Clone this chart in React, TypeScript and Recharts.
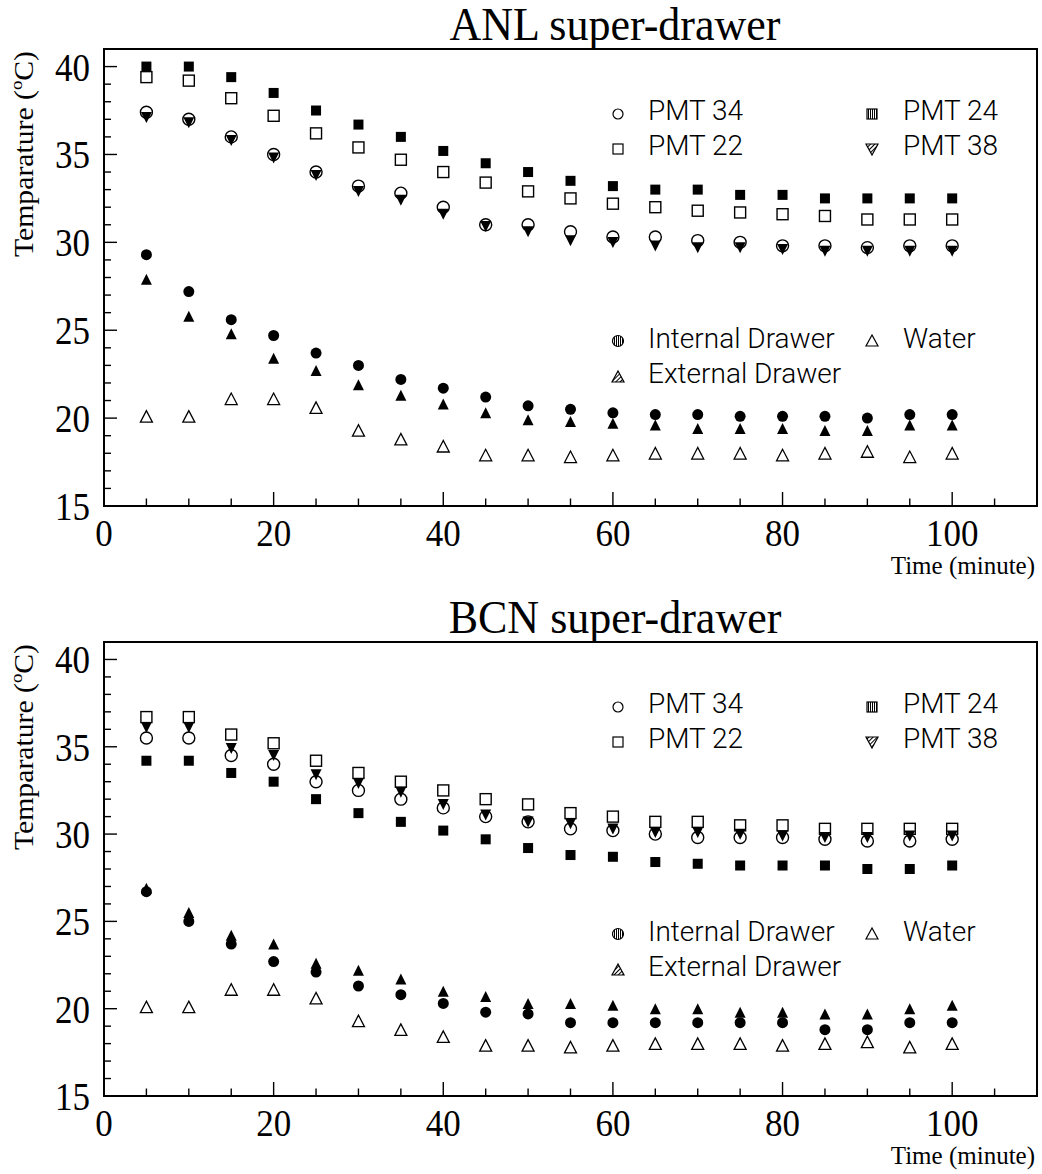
import React from "react";
import { ScatterChart, Scatter, XAxis, YAxis, ReferenceArea } from "recharts";

const TIME = [5, 10, 15, 20, 25, 30, 35, 40, 45, 50, 55, 60, 65, 70, 75, 80, 85, 90, 95, 100];
const X_TICKS = [0, 5, 10, 15, 20, 25, 30, 35, 40, 45, 50, 55, 60, 65, 70, 75, 80, 85, 90, 95, 100, 105, 110];
const Y_TICKS = [15, 16, 17, 18, 19, 20, 21, 22, 23, 24, 25, 26, 27, 28, 29, 30, 31, 32, 33, 34, 35, 36, 37, 38, 39, 40];

// ANL super-drawer
const ANL_PMT34 = [37.4, 37.0, 36.0, 35.0, 34.0, 33.2, 32.8, 32.0, 31.0, 31.0, 30.6, 30.3, 30.3, 30.1, 30.0, 29.8, 29.8, 29.7, 29.8, 29.8];
const ANL_PMT22 = [39.4, 39.2, 38.2, 37.2, 36.2, 35.4, 34.7, 34.0, 33.4, 32.9, 32.5, 32.2, 32.0, 31.8, 31.7, 31.6, 31.5, 31.3, 31.3, 31.3];
const ANL_PMT24 = [40.0, 40.0, 39.4, 38.5, 37.5, 36.7, 36.0, 35.2, 34.5, 34.0, 33.5, 33.2, 33.0, 33.0, 32.7, 32.7, 32.5, 32.5, 32.5, 32.5];
const ANL_PMT38 = [37.2, 36.9, 35.9, 34.9, 33.9, 33.0, 32.5, 31.7, 31.0, 30.7, 30.2, 30.1, 29.9, 29.8, 29.8, 29.7, 29.6, 29.6, 29.6, 29.6];
const ANL_INTERNAL = [29.3, 27.2, 25.6, 24.7, 23.7, 23.0, 22.2, 21.7, 21.2, 20.7, 20.5, 20.3, 20.2, 20.2, 20.1, 20.1, 20.1, 20.0, 20.2, 20.2];
const ANL_EXTERNAL = [27.8, 25.7, 24.7, 23.3, 22.6, 21.8, 21.2, 20.7, 20.2, 19.8, 19.7, 19.6, 19.5, 19.3, 19.3, 19.3, 19.2, 19.2, 19.5, 19.5];
const ANL_WATER = [20.0, 20.0, 21.0, 21.0, 20.5, 19.2, 18.7, 18.3, 17.8, 17.8, 17.7, 17.8, 17.9, 17.9, 17.9, 17.8, 17.9, 18.0, 17.7, 17.9];

// BCN super-drawer
const BCN_PMT34 = [35.5, 35.5, 34.5, 34.0, 33.0, 32.5, 32.0, 31.5, 31.0, 30.7, 30.3, 30.2, 30.0, 29.8, 29.8, 29.8, 29.7, 29.6, 29.6, 29.7];
const BCN_PMT22 = [36.7, 36.7, 35.7, 35.2, 34.2, 33.5, 33.0, 32.5, 32.0, 31.7, 31.2, 31.0, 30.7, 30.7, 30.5, 30.5, 30.3, 30.3, 30.3, 30.3];
const BCN_PMT24 = [34.2, 34.2, 33.5, 33.0, 32.0, 31.2, 30.7, 30.2, 29.7, 29.2, 28.8, 28.7, 28.4, 28.3, 28.2, 28.2, 28.2, 28.0, 28.0, 28.2];
const BCN_PMT38 = [36.2, 36.2, 35.0, 34.6, 33.5, 33.0, 32.5, 31.8, 31.2, 30.8, 30.7, 30.4, 30.2, 30.2, 30.1, 30.0, 29.9, 29.9, 30.0, 30.0];
const BCN_INTERNAL = [26.7, 25.0, 23.7, 22.7, 22.1, 21.3, 20.8, 20.3, 19.8, 19.7, 19.2, 19.2, 19.2, 19.2, 19.2, 19.2, 18.8, 18.8, 19.2, 19.2];
const BCN_EXTERNAL = [26.8, 25.4, 24.1, 23.6, 22.5, 22.1, 21.6, 20.9, 20.6, 20.2, 20.2, 20.1, 19.9, 19.9, 19.7, 19.7, 19.6, 19.6, 19.9, 20.1];
const BCN_WATER = [20.0, 20.0, 21.0, 21.0, 20.5, 19.2, 18.7, 18.3, 17.8, 17.8, 17.7, 17.8, 17.9, 17.9, 17.9, 17.8, 17.9, 18.0, 17.7, 17.9];

const W = 1042;
const H = 587;
const PLOT_LEFT = 104;
const SERIF = "'Liberation Serif', 'Times New Roman', serif";
const SANS = "Roboto, 'DejaVu Sans', sans-serif";

const toPoints = (vals: number[]) => TIME.map((x, i) => ({ x, y: vals[i] }));

// markers
const OpenCircle = (p: any) => <circle cx={p.cx} cy={p.cy} r={6} fill="none" stroke="#000" strokeWidth={1.4} />;
const FullCircle = (p: any) => <circle cx={p.cx} cy={p.cy} r={5.5} fill="#000" />;
const OpenSquare = (p: any) => (
  <rect x={p.cx - 5.5} y={p.cy - 5.5} width={11} height={11} fill="none" stroke="#000" strokeWidth={1.4} />
);
const FullSquare = (p: any) => <rect x={p.cx - 5} y={p.cy - 5} width={10} height={10} fill="#000" />;
const FullTriDown = (p: any) => (
  <polygon points={`${p.cx - 5.5},${p.cy - 3.7} ${p.cx + 5.5},${p.cy - 3.7} ${p.cx},${p.cy + 7.3}`} fill="#000" />
);
const FullTriUp = (p: any) => (
  <polygon points={`${p.cx},${p.cy - 7.3} ${p.cx - 5.5},${p.cy + 3.7} ${p.cx + 5.5},${p.cy + 3.7}`} fill="#000" />
);
const OpenTriUp = (p: any) => (
  <polygon
    points={`${p.cx},${p.cy - 7.5} ${p.cx - 6},${p.cy + 4} ${p.cx + 6},${p.cy + 4}`}
    fill="none"
    stroke="#000"
    strokeWidth={1.3}
  />
);

const makeYTick = () => (props: any) => {
  const { y, payload } = props;
  const v = payload.value;
  const major = v % 5 === 0;
  return (
    <g>
      <line x1={PLOT_LEFT} x2={PLOT_LEFT + (major ? 13 : 7)} y1={y} y2={y} stroke="#000" strokeWidth={1.4} />
      {major && (
        <text transform={`translate(90 ${y + 14}) scale(1 1.13)`} textAnchor="end" fontFamily={SERIF} fontSize={35} fill="#000">
          {v}
        </text>
      )}
    </g>
  );
};

const makeXTick = (bottom: number) => (props: any) => {
  const { x, payload } = props;
  const v = payload.value;
  const major = v % 20 === 0;
  return (
    <g>
      <line x1={x} x2={x} y1={bottom} y2={bottom - (major ? 14 : 7.5)} stroke="#000" strokeWidth={1.4} />
      {major && v <= 100 && (
        <text transform={`translate(${x} ${bottom + 40}) scale(1 1.1)`} textAnchor="middle" fontFamily={SERIF} fontSize={35} fill="#000">
          {v}
        </text>
      )}
    </g>
  );
};

interface PanelProps {
  id: string;
  title: string;
  plotTop: number;
  plotH: number;
  pmt34: number[];
  pmt22: number[];
  pmt24: number[];
  pmt38: number[];
  internal: number[];
  external: number[];
  water: number[];
}

const Panel: React.FC<PanelProps> = (p) => {
  const T = p.plotTop;
  const bottom = T + p.plotH;
  const c1 = 618;
  const c2 = 872;
  const legendText = (x: number, y: number, s: string) => (
    <text x={x} y={y} fontFamily={SANS} fontWeight={300} fontSize={28} fill="#000">
      {s}
    </text>
  );
  return (
    <div style={{ position: "relative", width: W, height: H }}>
      <ScatterChart width={W} height={H} margin={{ top: T, right: 5, bottom: 0, left: 0 }}>
        <XAxis
          type="number"
          dataKey="x"
          domain={[0, 110]}
          allowDataOverflow
          ticks={X_TICKS}
          interval={0}
          height={H - bottom}
          axisLine={false}
          tickLine={false}
          tick={makeXTick(bottom)}
        />
        <YAxis
          type="number"
          dataKey="y"
          domain={[15, 41]}
          allowDataOverflow
          ticks={Y_TICKS}
          interval={0}
          width={PLOT_LEFT}
          axisLine={false}
          tickLine={false}
          tick={makeYTick()}
        />
        <ReferenceArea x1={0} x2={110} y1={15} y2={41} fill="none" stroke="#000" strokeWidth={2} fillOpacity={0} />
        <Scatter data={toPoints(p.pmt22)} shape={OpenSquare} isAnimationActive={false} />
        <Scatter data={toPoints(p.pmt24)} shape={FullSquare} isAnimationActive={false} />
        <Scatter data={toPoints(p.pmt34)} shape={OpenCircle} isAnimationActive={false} />
        <Scatter data={toPoints(p.pmt38)} shape={FullTriDown} isAnimationActive={false} />
        <Scatter data={toPoints(p.water)} shape={OpenTriUp} isAnimationActive={false} />
        <Scatter data={toPoints(p.internal)} shape={FullCircle} isAnimationActive={false} />
        <Scatter data={toPoints(p.external)} shape={FullTriUp} isAnimationActive={false} />
      </ScatterChart>
      <svg width={W} height={H} style={{ position: "absolute", left: 0, top: 0, pointerEvents: "none" }}>
        <defs>
          <pattern id={`${p.id}-v`} width={2} height={2} patternUnits="userSpaceOnUse">
            <rect width={2} height={2} fill="#fff" />
            <line x1={0.5} y1={0} x2={0.5} y2={2} stroke="#000" strokeWidth={1} />
          </pattern>
          <pattern id={`${p.id}-d`} width={3} height={3} patternUnits="userSpaceOnUse" patternTransform="rotate(45)">
            <rect width={3} height={3} fill="#fff" />
            <line x1={0.5} y1={0} x2={0.5} y2={3} stroke="#000" strokeWidth={1} />
          </pattern>
        </defs>
        <text
          transform={`translate(615 ${T - 9}) scale(1 1.05)`}
          textAnchor="middle"
          fontFamily={SERIF}
          fontSize={44}
          fill="#000"
        >
          {p.title}
        </text>
        <text
          transform={`translate(33 ${T + 105}) rotate(-90) scale(1.1 1)`}
          textAnchor="middle"
          fontFamily={SERIF}
          fontSize={27}
          fill="#000"
        >
          Temparature (
          <tspan fontSize={17} dy={-11}>
            o
          </tspan>
          <tspan dy={11}>C)</tspan>
        </text>
        <text x={1035} y={bottom + 68} textAnchor="end" fontFamily={SERIF} fontSize={25} fill="#000">
          Time (minute)
        </text>

        {/* legend */}
        <circle cx={c1} cy={T + 65} r={5} fill="none" stroke="#000" strokeWidth={1.2} />
        {legendText(648, T + 71, "PMT 34")}
        <rect x={c1 - 5} y={T + 95} width={10} height={10} fill="none" stroke="#000" strokeWidth={1.2} />
        {legendText(648, T + 106, "PMT 22")}
        <rect x={c2 - 5} y={T + 60} width={10} height={10} fill={`url(#${p.id}-v)`} stroke="#000" strokeWidth={1.2} />
        {legendText(903, T + 71, "PMT 24")}
        <polygon
          points={`${c2 - 6},${T + 95} ${c2 + 6},${T + 95} ${c2},${T + 106}`}
          fill={`url(#${p.id}-d)`}
          stroke="#000"
          strokeWidth={1.2}
        />
        {legendText(903, T + 106, "PMT 38")}
        <circle cx={c1} cy={T + 292} r={5.5} fill={`url(#${p.id}-v)`} stroke="#000" strokeWidth={1.2} />
        {legendText(648, T + 299, "Internal Drawer")}
        <polygon
          points={`${c2},${T + 286} ${c2 - 6},${T + 297} ${c2 + 6},${T + 297}`}
          fill="none"
          stroke="#000"
          strokeWidth={1.2}
        />
        {legendText(903, T + 299, "Water")}
        <polygon
          points={`${c1},${T + 322} ${c1 - 6},${T + 333} ${c1 + 6},${T + 333}`}
          fill={`url(#${p.id}-d)`}
          stroke="#000"
          strokeWidth={1.2}
        />
        {legendText(648, T + 334, "External Drawer")}
      </svg>
    </div>
  );
};

const App: React.FC = () => {
  return (
    <div style={{ width: W, height: 1174, background: "#fff" }}>
      <style>{"body{margin:0;background:#fff}"}</style>
      <Panel
        id="anl"
        title="ANL super-drawer"
        plotTop={49}
        plotH={457}
        pmt34={ANL_PMT34}
        pmt22={ANL_PMT22}
        pmt24={ANL_PMT24}
        pmt38={ANL_PMT38}
        internal={ANL_INTERNAL}
        external={ANL_EXTERNAL}
        water={ANL_WATER}
      />
      <Panel
        id="bcn"
        title="BCN super-drawer"
        plotTop={55}
        plotH={454}
        pmt34={BCN_PMT34}
        pmt22={BCN_PMT22}
        pmt24={BCN_PMT24}
        pmt38={BCN_PMT38}
        internal={BCN_INTERNAL}
        external={BCN_EXTERNAL}
        water={BCN_WATER}
      />
    </div>
  );
};

export default App;
